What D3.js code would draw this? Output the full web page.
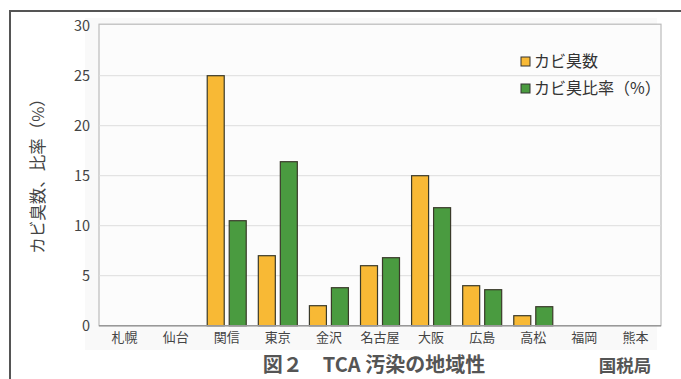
<!DOCTYPE html>
<html>
<head>
<meta charset="utf-8">
<script src="https://cdn.jsdelivr.net/npm/d3@7"></script>
<style>
body { margin:0; background:#fff; }
svg { display:block; font-family:"Noto Sans CJK JP","Noto Sans",sans-serif; }
</style>
</head>
<body>
<svg id="graph"></svg>
<script>
var regions = ["札幌","仙台","関信","東京","金沢","名古屋","大阪","広島","高松","福岡","熊本"]
var moldCount = [0,0,25,7,2,6,15,4,1,0,0]
var moldRatio = [0,0,10.5,16.4,3.8,6.8,11.8,3.6,1.9,0,0]
var yTicks = [0,5,10,15,20,25,30]
var seriesNames = ["カビ臭数","カビ臭比率（%）"]

var screen = {width:681,height:379}
var plot = {left:99,right:661,top:25.7,bottom:325.7}

var svg = d3.select("#graph")
.attr("width",screen.width)
.attr("height",screen.height)

// outer frame, top and left only
svg.append("path")
.attr("d","M10,380 L10,11 L682,11")
.attr("fill","none")
.attr("stroke","#555")
.attr("stroke-width",2)

svg.append("rect")
.attr("x",85).attr("y",18)
.attr("width",572).attr("height",332)
.attr("fill","#f9f9f9")

var xscale = d3.scaleBand()
.domain(regions)
.range([plot.left,plot.right])

var yscale = d3.scaleLinear()
.domain([0,30])
.range([plot.bottom,plot.top])

svg.append("rect")
.attr("x",plot.left).attr("y",plot.top-1.5)
.attr("width",plot.right-plot.left)
.attr("height",plot.bottom-plot.top+1.5)
.attr("fill","#fcfcfc")
.attr("stroke","#bbb")
.attr("stroke-width",1.2)

svg.append("g")
.selectAll("line")
.data(yTicks.slice(1,-1))
.enter()
.append("line")
.attr("x1",plot.left).attr("x2",plot.right)
.attr("y1",function(d){return yscale(d)})
.attr("y2",function(d){return yscale(d)})
.attr("stroke","#ddd")

var yAxis = svg.append("g")
.attr("transform","translate("+plot.left+",0)")
.call(d3.axisLeft(yscale).tickValues(yTicks).tickSize(0).tickPadding(9))
yAxis.select(".domain").remove()
yAxis.selectAll("text")
.attr("font-size",14.5)
.attr("fill","#444")
.attr("font-family","\"Noto Sans CJK JP\",sans-serif")

var xAxis = svg.append("g")
.attr("transform","translate(0,"+plot.bottom+")")
.call(d3.axisBottom(xscale).tickSize(0).tickPadding(7))
xAxis.select(".domain").remove()
xAxis.selectAll("text")
.attr("font-size",13)
.attr("fill","#444")
.attr("font-family","\"Noto Sans CJK JP\",sans-serif")

var colors = ["#f8b935","#4a9b40"]
var barW = 17, gap = 5
var series = [moldCount,moldRatio]

series.forEach(function(values,i)
{
    svg.append("g")
    .selectAll("rect")
    .data(regions.map(function(r,j){return {region:r,value:values[j]}}).filter(function(d){return d.value>0}))
    .enter()
    .append("rect")
    .attr("x",function(d)
    {
        var c = xscale(d.region)+xscale.bandwidth()/2
        return i==0 ? c-gap/2-barW : c+gap/2
    })
    .attr("y",function(d){return yscale(d.value)})
    .attr("width",barW)
    .attr("height",function(d){return plot.bottom-yscale(d.value)})
    .attr("fill",colors[i])
    .attr("stroke","#3a3a2a")
    .attr("stroke-width",1.2)
})

svg.append("line")
.attr("x1",plot.left).attr("x2",plot.right)
.attr("y1",plot.bottom).attr("y2",plot.bottom)
.attr("stroke","#999")
.attr("stroke-width",1.5)

// legend
var legend = svg.append("g")
.selectAll("g")
.data(seriesNames)
.enter()
.append("g")
.attr("transform",function(d,i){return "translate(521,"+(57+i*27)+")"})
legend.append("rect")
.attr("width",9).attr("height",9)
.attr("fill",function(d,i){return colors[i]})
.attr("stroke","#333")
legend.append("text")
.attr("x",13).attr("y",10)
.attr("font-size",16)
.attr("fill","#333")
.text(function(d){return d})

svg.append("text")
.attr("transform","translate(44,172) rotate(-90)")
.attr("text-anchor","middle")
.attr("font-size",16.5)
.attr("fill","#444")
.text("カビ臭数、比率（%）")

svg.append("text")
.attr("x",374).attr("y",372)
.attr("text-anchor","middle")
.attr("font-size",20)
.attr("font-weight","bold")
.attr("fill","#555")
.text("図２　TCA 汚染の地域性")

svg.append("text")
.attr("x",625).attr("y",372)
.attr("text-anchor","middle")
.attr("font-size",17.5)
.attr("font-weight","bold")
.attr("fill","#555")
.text("国税局")
</script>
</body>
</html>
